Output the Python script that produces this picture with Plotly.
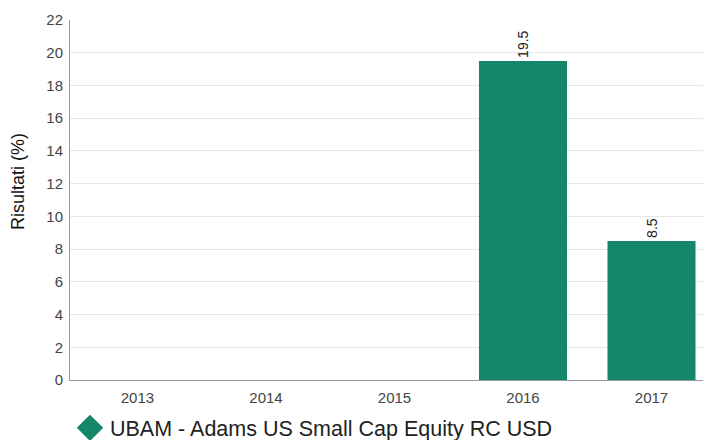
import plotly.graph_objects as go

years = ['2013', '2014', '2015', '2016', '2017']
results = [None, None, None, 19.5, 8.5]
labels = ['', '', '', '19.5', '8.5']
fund_name = 'UBAM - Adams US Small Cap Equity RC USD'
y_title = 'Risultati (%)'
y_ticks = list(range(0, 23, 2))

green = '#14876a'
font_family = 'Liberation Sans, Arial, sans-serif'

fig = go.Figure()
fig.add_trace(go.Bar(x=years, y=results, text=labels,
                     textposition='outside', textangle=-90,
                     textfont=dict(size=14, color='#222222'),
                     cliponaxis=False,
                     marker=dict(color=green, line=dict(width=0)),
                     showlegend=False, hoverinfo='skip'))
# legend entry with the diamond symbol
fig.add_trace(go.Scatter(x=[None], y=[None], mode='markers', name=fund_name,
                         marker=dict(symbol='diamond', size=24, color=green,
                                     line=dict(width=4, color=green))))

# the page body adds an 8px offset, margins compensate for it
fig.update_layout(
    width=711, height=440,
    margin=dict(l=62, r=8, t=12, b=68, autoexpand=False),
    paper_bgcolor='white', plot_bgcolor='white',
    font=dict(family=font_family, color='#444444'),
    bargap=0.315,
    showlegend=True,
    legend=dict(orientation='h', x=0.0, xanchor='left', y=-0.133, yanchor='middle',
                font=dict(size=21.5, color='#222222'), itemsizing='trace',
                bgcolor='rgba(0,0,0,0)'),
)
fig.add_annotation(text=y_title, xref='paper', yref='paper', x=-0.081, y=0.55,
                   xanchor='center', yanchor='middle', textangle=-90, showarrow=False,
                   font=dict(size=18, color='#111111'))
fig.update_xaxes(type='category', range=[-0.525, 4.463], automargin=False,
                 showline=True, linecolor='#999999', linewidth=1,
                 showgrid=False, ticks='', ticklabelstandoff=4,
                 tickfont=dict(size=15, color='#444444'))
fig.update_yaxes(range=[0, 22], tickvals=y_ticks, automargin=False,
                 showline=True, linecolor='#999999', linewidth=1,
                 showgrid=True, gridcolor='#e6e6e6', zeroline=False,
                 ticks='', ticklabelstandoff=3,
                 tickfont=dict(size=15, color='#444444'))

fig.write_html("out.html")
